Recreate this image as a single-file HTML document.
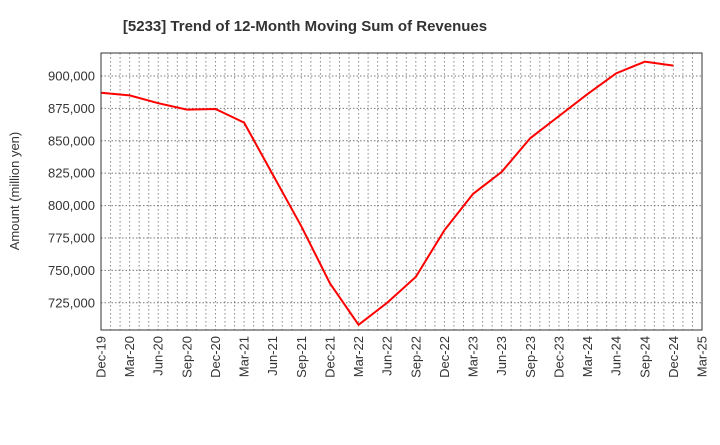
<!DOCTYPE html>
<html><head><meta charset="utf-8"><style>
body{margin:0;background:#fff;font-family:"Liberation Sans",sans-serif}
</style></head><body>
<svg id="c" width="720" height="440" xmlns="http://www.w3.org/2000/svg">
<text x="305" y="31" font-size="15" font-weight="bold" text-anchor="middle" fill="#333">[5233]  Trend of 12-Month Moving Sum of Revenues</text>
<text transform="translate(19,191) rotate(-90)" font-size="13" text-anchor="middle" fill="#333">Amount (million yen)</text>
<g id="grid"></g><g id="ax"></g><g id="ser"></g>
<rect x="101" y="53" width="601" height="277" fill="none" stroke="#333" stroke-width="1"/>
</svg>
<script>
const categories=["Dec-19","Mar-20","Jun-20","Sep-20","Dec-20","Mar-21","Jun-21","Sep-21","Dec-21","Mar-22","Jun-22","Sep-22","Dec-22","Mar-23","Jun-23","Sep-23","Dec-23","Mar-24","Jun-24","Sep-24","Dec-24","Mar-25"];
const revenues=[887000,885000,879000,874000,874500,864000,824000,784000,740000,708000,725000,745000,781000,809000,826000,852000,869000,886000,902000,911000,908000];
const yTicks=[725000,750000,775000,800000,825000,850000,875000,900000];
const L=101,R=702,T=53,B=330,yMin=704000,yMax=917700;
const xs=i=>L+(R-L)*i/(categories.length-1);
const ys=v=>B-(v-yMin)/(yMax-yMin)*(B-T);
const NS="http://www.w3.org/2000/svg";
function mk(t,a,p){const e=document.createElementNS(NS,t);for(const k in a)e.setAttribute(k,a[k]);p.appendChild(e);return e;}
const g=document.getElementById('grid'),ax=document.getElementById('ax'),s=document.getElementById('ser');
const nm=(categories.length-1)*3;
for(let m=1;m<nm;m++){const x=L+(R-L)*m/nm;
const l=mk('line',{x1:x,x2:x,y1:T,y2:B,stroke:'#888','stroke-dasharray':'1.5,2.5','stroke-width':1},g);

}
yTicks.forEach(v=>{const y=ys(v);
const l=mk('line',{x1:L,x2:R,y1:y,y2:y,stroke:'#777','stroke-dasharray':'1.5,2','stroke-width':1},g);


const t=mk('text',{x:L-6,y:y+4.5,'font-size':13,'text-anchor':'end',fill:'#333'},ax);t.textContent=v.toLocaleString('en-US');

});
categories.forEach((c,i)=>{const x=xs(i);
const t=mk('text',{transform:`translate(${x+4.5},336) rotate(-90)`,'font-size':13,'text-anchor':'end',fill:'#333'},ax);t.textContent=c;

});
const p=mk('polyline',{points:revenues.map((v,i)=>xs(i)+','+ys(v)).join(' '),fill:'none',stroke:'#f00','stroke-width':2},s);


</script>
</body></html>
